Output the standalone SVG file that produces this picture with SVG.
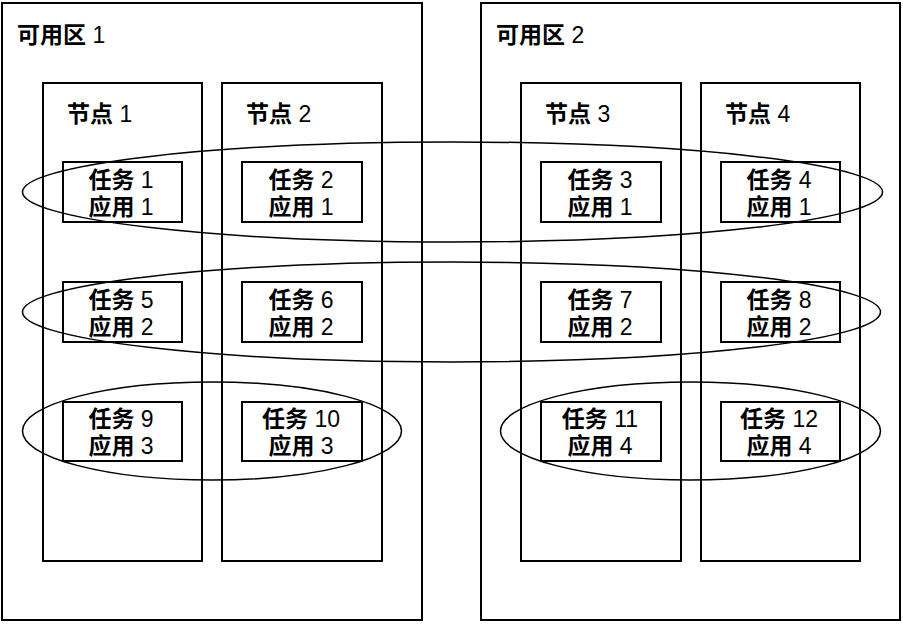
<svg xmlns="http://www.w3.org/2000/svg" width="903" height="628" viewBox="0 0 903 628">
<style>
.box{fill:none;stroke:#000;stroke-width:2}
.ell{fill:none;stroke:#000;stroke-width:1.5}
text{font-family:"Liberation Sans","Noto Sans CJK SC",sans-serif;font-size:23px;fill:#000}
.c{font-weight:700}
.m{text-anchor:middle}
</style>
<rect width="903" height="628" fill="#fff"/>
<g id="zone1"><rect class="box" x="2" y="3" width="420" height="617"/><text x="17" y="43"><tspan class="c">可用区</tspan> 1</text></g>
<g id="zone2"><rect class="box" x="481" y="3" width="419" height="617"/><text x="496" y="43"><tspan class="c">可用区</tspan> 2</text></g>
<g id="node1"><rect class="box" x="43" y="83" width="159" height="478"/><text x="67" y="122"><tspan class="c">节点</tspan> 1</text></g>
<g id="node2"><rect class="box" x="222" y="83" width="160" height="478"/><text x="246" y="122"><tspan class="c">节点</tspan> 2</text></g>
<g id="node3"><rect class="box" x="521" y="83" width="160" height="478"/><text x="545" y="122"><tspan class="c">节点</tspan> 3</text></g>
<g id="node4"><rect class="box" x="701" y="83" width="159" height="478"/><text x="725" y="122"><tspan class="c">节点</tspan> 4</text></g>
<g id="task1"><rect class="box" x="63" y="162" width="119" height="60"/><text class="m" x="121" y="188"><tspan class="c">任务</tspan> 1</text><text class="m" x="121" y="215"><tspan class="c">应用</tspan> 1</text></g>
<g id="task2"><rect class="box" x="242" y="162" width="120" height="60"/><text class="m" x="301" y="188"><tspan class="c">任务</tspan> 2</text><text class="m" x="301" y="215"><tspan class="c">应用</tspan> 1</text></g>
<g id="task3"><rect class="box" x="541" y="162" width="120" height="60"/><text class="m" x="600" y="188"><tspan class="c">任务</tspan> 3</text><text class="m" x="600" y="215"><tspan class="c">应用</tspan> 1</text></g>
<g id="task4"><rect class="box" x="721" y="162" width="119" height="60"/><text class="m" x="779" y="188"><tspan class="c">任务</tspan> 4</text><text class="m" x="779" y="215"><tspan class="c">应用</tspan> 1</text></g>
<g id="task5"><rect class="box" x="63" y="282" width="119" height="60"/><text class="m" x="121" y="308"><tspan class="c">任务</tspan> 5</text><text class="m" x="121" y="335"><tspan class="c">应用</tspan> 2</text></g>
<g id="task6"><rect class="box" x="242" y="282" width="120" height="60"/><text class="m" x="301" y="308"><tspan class="c">任务</tspan> 6</text><text class="m" x="301" y="335"><tspan class="c">应用</tspan> 2</text></g>
<g id="task7"><rect class="box" x="541" y="282" width="120" height="60"/><text class="m" x="600" y="308"><tspan class="c">任务</tspan> 7</text><text class="m" x="600" y="335"><tspan class="c">应用</tspan> 2</text></g>
<g id="task8"><rect class="box" x="721" y="282" width="119" height="60"/><text class="m" x="779" y="308"><tspan class="c">任务</tspan> 8</text><text class="m" x="779" y="335"><tspan class="c">应用</tspan> 2</text></g>
<g id="task9"><rect class="box" x="63" y="402" width="119" height="59"/><text class="m" x="121" y="427"><tspan class="c">任务</tspan> 9</text><text class="m" x="121" y="454"><tspan class="c">应用</tspan> 3</text></g>
<g id="task10"><rect class="box" x="242" y="402" width="120" height="59"/><text class="m" x="301" y="427"><tspan class="c">任务</tspan> 10</text><text class="m" x="301" y="454"><tspan class="c">应用</tspan> 3</text></g>
<g id="task11"><rect class="box" x="541" y="402" width="120" height="59"/><text class="m" x="600" y="427"><tspan class="c">任务</tspan> 11</text><text class="m" x="600" y="454"><tspan class="c">应用</tspan> 4</text></g>
<g id="task12"><rect class="box" x="721" y="402" width="119" height="59"/><text class="m" x="779" y="427"><tspan class="c">任务</tspan> 12</text><text class="m" x="779" y="454"><tspan class="c">应用</tspan> 4</text></g>
<g id="groups">
<ellipse class="ell" cx="452.5" cy="192" rx="430" ry="50"/>
<ellipse class="ell" cx="451.5" cy="312" rx="429" ry="50"/>
<ellipse class="ell" cx="212" cy="431" rx="189.5" ry="49"/>
<ellipse class="ell" cx="690.5" cy="431" rx="190" ry="49"/>
</g>
</svg>
